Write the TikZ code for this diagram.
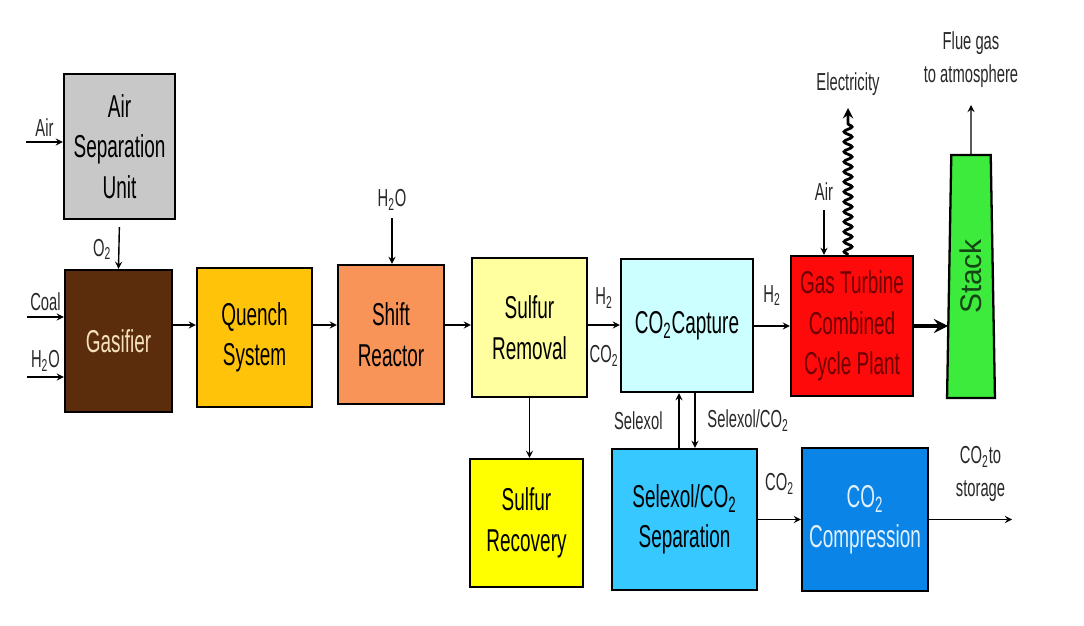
\documentclass[tikz,border=0pt]{standalone}
\usepackage{fontspec}
\setmainfont{Liberation Sans}[FakeStretch=0.6]
\newfontfamily\stackfont{Liberation Sans}
\usetikzlibrary{shapes,arrows,positioning,calc,decorations.pathmorphing}

\definecolor{asugray}{RGB}{200,200,200}
\definecolor{gasbrown}{RGB}{92,45,12}
\definecolor{gastext}{RGB}{245,225,190}
\definecolor{quenchorange}{RGB}{255,195,10}
\definecolor{shiftsalmon}{RGB}{248,148,88}
\definecolor{sulfpale}{RGB}{255,255,160}
\definecolor{capcyan}{RGB}{204,255,255}
\definecolor{gtred}{RGB}{255,10,10}
\definecolor{gttext}{RGB}{110,0,0}
\definecolor{stackgreen}{RGB}{60,235,60}
\definecolor{stacktext}{RGB}{20,70,20}
\definecolor{recyellow}{RGB}{255,255,0}
\definecolor{sepblue}{RGB}{55,200,255}
\definecolor{compblue}{RGB}{10,132,230}
\definecolor{comptext}{RGB}{225,240,255}
\definecolor{labelgray}{RGB}{40,40,40}

\begin{document}
\begin{tikzpicture}[x=0.02cm, y=-0.02cm, >=stealth,
    block/.style={draw, rectangle, line width=1.3pt, align=center, font=\fontsize{18}{23}\selectfont},
    lbl/.style={font=\fontsize{14}{19}\selectfont, text=labelgray, align=center, inner sep=1pt},
    flow/.style={->, thick}]
        \useasboundingbox (0,0) rectangle (1084,625);

        \node (asu) [block, fill=asugray, minimum width=2.22cm, minimum height=2.9cm] at (119.5,146.5) {Air\\Separation\\Unit};
        \node (gasifier) [block, fill=gasbrown, text=gastext, minimum width=2.14cm, minimum height=2.84cm] at (118.5,341) {Gasifier};
        \node (quench) [block, fill=quenchorange, minimum width=2.3cm, minimum height=2.78cm] at (254.5,337.5) {Quench\\System};
        \node (shift) [block, fill=shiftsalmon, minimum width=2.12cm, minimum height=2.78cm] at (391,334.5) {Shift\\Reactor};
        \node (sulfrem) [block, fill=sulfpale, minimum width=2.3cm, minimum height=2.78cm] at (529.5,327.5) {Sulfur\\Removal};
        \node (capture) [block, fill=capcyan, minimum width=2.64cm, minimum height=2.66cm] at (687,325.5) {CO\textsubscript{2}Capture};
        \node (gt) [block, fill=gtred, text=gttext, minimum width=2.44cm, minimum height=2.8cm] at (852,326) {Gas Turbine\\Combined\\Cycle Plant};
        \node (stack) [block, trapezium, trapezium angle=87.6, trapezium stretches=true, fill=stackgreen, text=stacktext, minimum width=0.96cm, minimum height=4.86cm] at (971,276.5) {\rotatebox{90}{\stackfont\fontsize{17}{20}\selectfont Stack}};
        \node (sulfrec) [block, fill=recyellow, minimum width=2.26cm, minimum height=2.56cm] at (526.5,523) {Sulfur\\Recovery};
        \node (sep) [block, fill=sepblue, minimum width=2.9cm, minimum height=2.82cm] at (684.5,519.5) {Selexol/CO\textsubscript{2}\\Separation};
        \node (comp) [block, fill=compblue, text=comptext, minimum width=2.52cm, minimum height=2.86cm] at (865,519.5) {CO\textsubscript{2}\\Compression};

        % feeds and products
        \coordinate (airin) at (26,142);
        \coordinate (coalin) at (27,317);
        \coordinate (waterin) at (27,377);
        \coordinate (steamin) at (392,218);
        \coordinate (gtair) at (824,210);
        \coordinate (power) at (848,108);
        \coordinate (flue) at (971,105);
        \coordinate (storage) at (1012,519.5);
        \coordinate (mainline) at (0,325);

        \draw[flow] (airin) -- node[lbl, above=2pt] {Air} (asu.west |- airin);
        \draw[flow, shorten <=4pt] (asu.south) -- node[lbl, left=3pt, pos=0.6] {O\textsubscript{2}} (gasifier.north);
        \draw[flow] (coalin) -- node[lbl, above=2pt] {Coal} (gasifier.west |- coalin);
        \draw[flow] (waterin) -- node[lbl, above=2pt] {H\textsubscript{2}O} (gasifier.west |- waterin);

        \draw[flow] (gasifier.east |- mainline) -- (quench.west |- mainline);
        \draw[flow] (quench.east |- mainline) -- (shift.west |- mainline);
        \draw[flow] (steamin) node[lbl, above=3pt] {H\textsubscript{2}O} -- (steamin |- shift.north);
        \draw[flow] (shift.east |- mainline) -- (sulfrem.west |- mainline);
        \draw[flow] (sulfrem.east |- mainline) -- node[lbl, above=8pt] {H\textsubscript{2}} node[lbl, below=10pt] {CO\textsubscript{2}} (capture.west |- mainline);
        \draw[flow] (sulfrem.south) -- (sulfrem.south |- sulfrec.north);

        \draw[flow] (capture.east |- gt.east) -- node[lbl, above=10pt] {H\textsubscript{2}} (gt.west);
        \draw[flow] (gtair) node[lbl, above=4pt] {Air} -- (gtair |- gt.north);
        \draw[->, line width=1.6pt, decorate, decoration={snake, amplitude=0.08cm, segment length=0.2cm, post length=0.25cm}] (power |- gt.north) -- (power);
        \node (elec) [lbl, above=0.2cm of power] {Electricity};
        \draw[->, line width=2.5pt] (gt.east) -- (stack.west |- gt.east);
        \draw[flow] (stack.north) -- (flue) node[lbl, above=0.3cm] {Flue gas\\to atmosphere};

        \draw[flow] ([xshift=-0.16cm]capture.south |- sep.north) -- node[lbl, left=0.28cm] {Selexol} ([xshift=-0.16cm]capture.south);
        \draw[flow] ([xshift=0.16cm]capture.south) -- node[lbl, right=0.2cm] {Selexol/CO\textsubscript{2}} ([xshift=0.16cm]capture.south |- sep.north);
        \draw[flow] (sep.east) -- node[lbl, above=0.45cm] {CO\textsubscript{2}} (comp.west);
        \draw[flow] (comp.east) -- node[lbl, above=0.3cm, pos=0.62] {CO\textsubscript{2}to\\storage} (storage);
    \end{tikzpicture}
\end{document}
